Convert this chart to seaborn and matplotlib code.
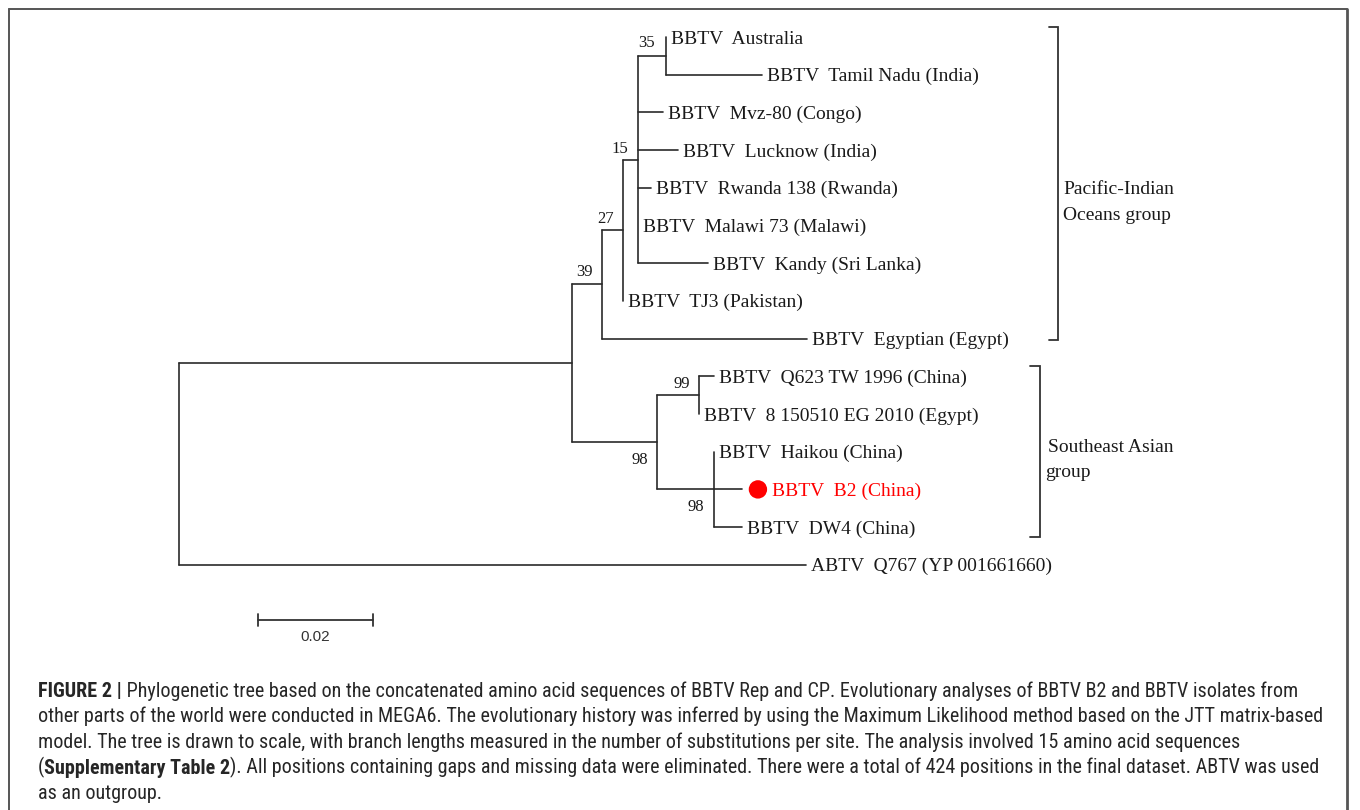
import numpy as np
import pandas as pd
import matplotlib
matplotlib.use("Agg")
import matplotlib.pyplot as plt
import seaborn as sns
from matplotlib import font_manager
from matplotlib.lines import Line2D

# ------------------------------------------------------------------ data
leaf_labels = [
    "BBTV  Australia",
    "BBTV  Tamil Nadu (India)",
    "BBTV  Mvz-80 (Congo)",
    "BBTV  Lucknow (India)",
    "BBTV  Rwanda 138 (Rwanda)",
    "BBTV  Malawi 73 (Malawi)",
    "BBTV  Kandy (Sri Lanka)",
    "BBTV  TJ3 (Pakistan)",
    "BBTV  Egyptian (Egypt)",
    "BBTV  Q623 TW 1996 (China)",
    "BBTV  8 150510 EG 2010 (Egypt)",
    "BBTV  Haikou (China)",
    "BBTV  B2 (China)",
    "BBTV  DW4 (China)",
    "ABTV  Q767 (YP 001661660)",
]
# tree edges (child, parent, branch length in substitutions/site)
edge_child = ["n39", "L14", "n27", "n98", "n15", "L8", "nP", "L7",
              "n35", "L2", "L3", "L4", "L5", "L6", "L0", "L1",
              "n99", "n98b", "L9", "L10", "L11", "L12", "L13"]
edge_parent = ["root", "root", "n39", "n39", "n27", "n27", "n15", "n15",
               "nP", "nP", "nP", "nP", "nP", "nP", "n35", "n35",
               "n98", "n98", "n99", "n99", "n98b", "n98b", "n98b"]
edge_length = [0.0683, 0.1090, 0.0052, 0.0148, 0.0037, 0.0358, 0.0026, 0.0,
               0.0049, 0.0043, 0.0070, 0.0023, 0.0, 0.0122, 0.0, 0.0167,
               0.0073, 0.0099, 0.0026, 0.0, 0.0, 0.0049, 0.0049]
boot_nodes = ["n35", "n15", "n27", "n39", "n99", "n98", "n98b"]
boot_values = [35, 15, 27, 39, 99, 98, 98]
highlight_leaf = "L12"
group_lines = [["Pacific-Indian", "Oceans group"], ["Southeast Asian", "group"]]
group_first_leaf = [0, 9]
group_last_leaf = [8, 13]
scale_bar_length = 0.02
scale_bar_label = "0.02"
caption_lines = [
    [("FIGURE 2 |", True), (" Phylogenetic tree based on the concatenated amino acid sequences of BBTV Rep and CP. Evolutionary analyses of BBTV B2 and BBTV isolates from", False)],
    [("other parts of the world were conducted in MEGA6. The evolutionary history was inferred by using the Maximum Likelihood method based on the JTT matrix-based", False)],
    [("model. The tree is drawn to scale, with branch lengths measured in the number of substitutions per site. The analysis involved 15 amino acid sequences", False)],
    [("(", False), ("Supplementary Table 2", True), ("). All positions containing gaps and missing data were eliminated. There were a total of 424 positions in the final dataset. ABTV was used", False)],
    [("as an outgroup.", False)],
]

# ------------------------------------------------------------------ layout
W, H = 1360, 810
ROOT_PX, PX_PER_UNIT = 179, 5750.0
LEAF0_PX, LEAF_STEP = 37.0, 37.7

sns.set_theme(style="white")
plt.rcParams["font.family"] = ["Liberation Serif", "DejaVu Serif"]

fig = plt.figure(figsize=(W / 100, H / 100), dpi=100)
ax = fig.add_axes([0, 0, 1, 1])


def px2data(xp, yp):
    return (xp - ROOT_PX) / PX_PER_UNIT, (yp - LEAF0_PX) / LEAF_STEP


# ------------------------------------------------------------------ tree layout
children = {}
blen = {}
for c, p, l in zip(edge_child, edge_parent, edge_length):
    children.setdefault(p, []).append(c)
    blen[c] = l

xpos = {"root": 0.0}
for c, p in zip(edge_child, edge_parent):
    xpos[c] = xpos[p] + blen[c]

ypos = {}


def get_y(n):
    if n.startswith("L"):
        ypos[n] = float(int(n[1:]))
    else:
        ys = [get_y(c) for c in children[n]]
        ypos[n] = (ys[0] + ys[-1]) / 2.0
    return ypos[n]


get_y("root")

rows = []
seg = 0
for c, p in zip(edge_child, edge_parent):
    if blen[c] > 0:
        rows += [(seg, xpos[p], ypos[c]), (seg, xpos[c], ypos[c])]
        seg += 1
for n, ch in children.items():
    rows += [(seg, xpos[n], ypos[ch[0]]), (seg, xpos[n], ypos[ch[-1]])]
    seg += 1
seg_df = pd.DataFrame(rows, columns=["seg", "x", "y"])

LINE_C = "#2a2a2a"
sns.lineplot(data=seg_df, x="x", y="y", units="seg", estimator=None, sort=False,
             color=LINE_C, linewidth=1.2, legend=False, ax=ax)

# leaf labels
for i, lab in enumerate(leaf_labels):
    lid = f"L{i}"
    if lid == highlight_leaf:
        dot_df = pd.DataFrame({"x": [xpos[lid] + 16 / PX_PER_UNIT], "y": [ypos[lid]]})
        sns.scatterplot(data=dot_df, x="x", y="y", color="#ff0000", s=175,
                        edgecolor="none", legend=False, ax=ax, zorder=5)
        ax.annotate(lab, xy=(xpos[lid], ypos[lid]), xytext=(30, -6.5),
                    textcoords="offset pixels", ha="left", va="baseline",
                    fontsize=14, color="#ff0000")
    else:
        ax.annotate(lab, xy=(xpos[lid], ypos[lid]), xytext=(5, -6.5),
                    textcoords="offset pixels", ha="left", va="baseline",
                    fontsize=14, color="#1a1a1a")

# bootstrap values (offsets in pixels from the node, down positive)
boot_offsets = {"n35": (-19.5, -14), "n15": (-3, -83), "n27": (3.5, -67),
                "n39": (13, -93), "n99": (-17.5, -13), "n98": (-17, 16),
                "n98b": (-17.5, 16)}
for n, v in zip(boot_nodes, boot_values):
    dx, dy = boot_offsets[n]
    ax.annotate(str(v), xy=(xpos[n], ypos[n]), xytext=(dx, -(dy + 5.6)),
                textcoords="offset pixels", ha="center", va="baseline",
                fontsize=12, color="#1a1a1a")

# group brackets
bracket_x_px = [1058, 1040]
bracket_tick_px = [9, 10]
bracket_margin_px = [(-10, 1), (-10, 10)]
group_text_px = [[(1063, 194.5), (1063, 219.5)], [(1048, 452), (1045, 477)]]
for g in range(len(group_lines)):
    y0 = group_first_leaf[g] + bracket_margin_px[g][0] / LEAF_STEP
    y1 = group_last_leaf[g] + bracket_margin_px[g][1] / LEAF_STEP
    xv = (bracket_x_px[g] - ROOT_PX) / PX_PER_UNIT
    xt = xv - bracket_tick_px[g] / PX_PER_UNIT
    ax.plot([xt, xv, xv, xt], [y0, y0, y1, y1], color="#333333", lw=1.3,
            solid_joinstyle="miter")
    for line, (tx, ty) in zip(group_lines[g], group_text_px[g]):
        dx_, dy_ = px2data(tx, ty)
        ax.text(dx_, dy_, line, ha="left", va="baseline", fontsize=14,
                color="#1a1a1a")

# scale bar
sx0, sy = px2data(258, 620)
sx1 = sx0 + scale_bar_length
tick = 6 / LEAF_STEP
ax.plot([sx0, sx1], [sy, sy], color="#333333", lw=1.3)
ax.plot([sx0, sx0], [sy - tick, sy + tick], color="#333333", lw=1.3)
ax.plot([sx1, sx1], [sy - tick, sy + tick], color="#333333", lw=1.3)
ax.annotate(scale_bar_label, xy=((sx0 + sx1) / 2, sy), xytext=(0, -21),
            textcoords="offset pixels", ha="center", va="baseline",
            fontsize=11, color="#333333", family=["Liberation Sans", "DejaVu Sans"])

ax.set_xlim(-ROOT_PX / PX_PER_UNIT, (W - ROOT_PX) / PX_PER_UNIT)
ax.set_ylim((H - LEAF0_PX) / LEAF_STEP, -LEAF0_PX / LEAF_STEP)
ax.axis("off")

# outer frame
FR_C = "#555555"
fig.add_artist(Line2D([8.5 / W, 1347 / W], [1 - 9 / H, 1 - 9 / H], color=FR_C, lw=1.4, transform=fig.transFigure))
fig.add_artist(Line2D([8.5 / W, 8.5 / W], [0, 1 - 9 / H], color=FR_C, lw=1.4, transform=fig.transFigure))
fig.add_artist(Line2D([1347 / W, 1347 / W], [0, 1 - 9 / H], color=FR_C, lw=2.0, transform=fig.transFigure))


# caption
def has_font(name):
    try:
        font_manager.findfont(font_manager.FontProperties(family=name), fallback_to_default=False)
        return True
    except Exception:
        return False


cap_family = next((f for f in ["Liberation Sans Narrow", "Arial Narrow", "Roboto Condensed",
                               "Liberation Sans"] if has_font(f)), "DejaVu Sans")
renderer = fig.canvas.get_renderer()
probe = fig.text(0, 0, caption_lines[1][0][0], fontsize=10, family=cap_family)
wpx = probe.get_window_extent(renderer).width
probe.remove()
cap_size = 10 * 1284.0 / wpx

CAP_C = "#262626"
baselines = [697, 722.5, 748, 773.5, 799]
for parts, by in zip(caption_lines, baselines):
    prev = None
    for txt, bold in parts:
        kw = dict(fontsize=cap_size, family=cap_family, color=CAP_C,
                  fontweight="bold" if bold else "normal")
        if prev is None:
            prev = fig.text(38 / W, 1 - by / H, txt, ha="left", va="baseline", **kw)
        else:
            prev = ax.annotate(txt, xy=(1, 0), xycoords=prev, ha="left", va="bottom",
                               annotation_clip=False, **kw)

fig.savefig("out.png", dpi=100, facecolor="white")
